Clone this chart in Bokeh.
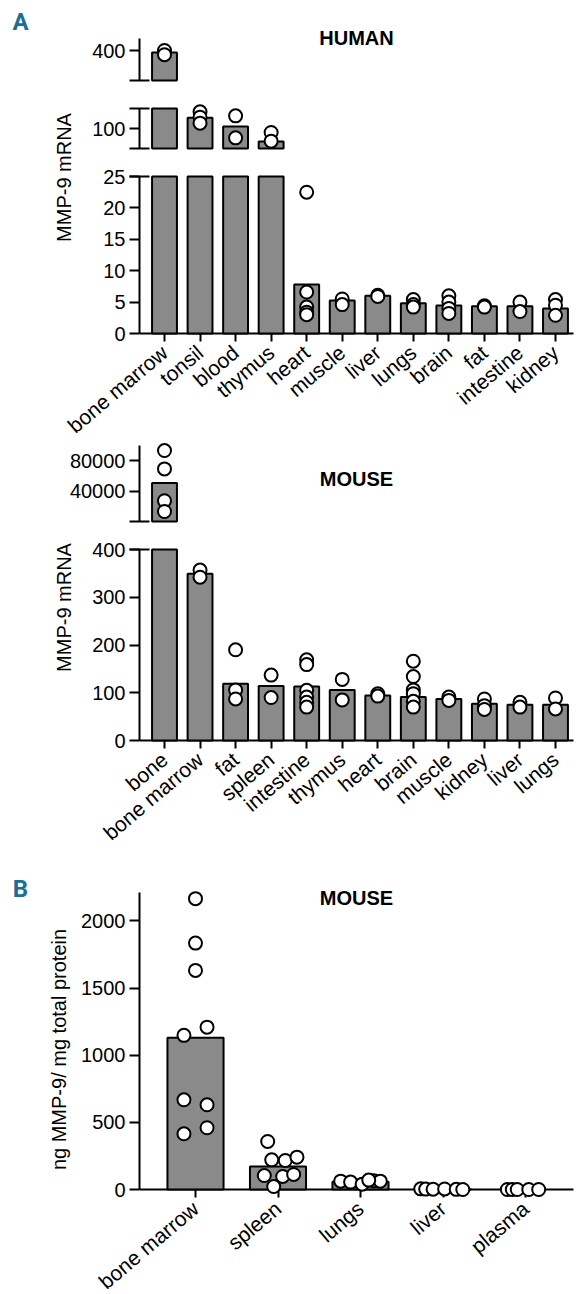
import numpy as np
from math import pi
from bokeh.plotting import figure
from bokeh.models import Range1d, LinearAxis, FixedTicker, Label, BasicTickFormatter
from bokeh.layouts import column
from bokeh.embed import file_html
from bokeh.resources import INLINE

# ---------------- data ----------------
human_tissues = ["bone marrow", "tonsil", "blood", "thymus", "heart", "muscle",
                 "liver", "lungs", "brain", "fat", "intestine", "kidney"]
human_mean = [393, 116, 103, 80.5, 7.8, 5.25, 6.0, 4.8, 4.45, 4.35, 4.35, 4.0]
human_points = [[400, 386], [125, 117, 108], [119, 86], [94, 81],
                [22.5, 6.6, 4.2, 3.4, 3.0], [5.5, 4.6], [6.1, 5.9], [5.4, 4.6, 4.2],
                [6.0, 5.0, 4.0, 3.2], [4.4, 4.2], [5.0, 3.5], [5.4, 4.5, 2.9]]

mouse_tissues = ["bone", "bone marrow", "fat", "spleen", "intestine", "thymus",
                 "heart", "brain", "muscle", "kidney", "liver", "lungs"]
mouse_mean = [50900, 349, 119, 114, 113, 106, 94, 91, 87, 77, 75, 75]
mouse_points = [[93400, 69300, 27600, 13500], [357, 342], [190, 106, 87], [137, 90],
                [169, 159, 105, 91, 80, 70], [128, 85], [98, 93],
                [166, 134, 106, 98, 82, 70], [91, 84], [87, 73, 65], [80, 70], [89, 66]]

protein_tissues = ["bone marrow", "spleen", "lungs", "liver", "plasma"]
protein_mean = [1130, 171, 57, 2, 0]
protein_points = [[2166, 1835, 1632, 1148, 1209, 668, 631, 415, 460],
                  [358, 221, 216, 241, 104, 97, 112, 22],
                  [62, 55, 40, 65, 62, 70],
                  [5, 3, 2, 4, 1, 0],
                  [0, 0, 0, 0, 0]]
protein_jitter = [[0, 0, 0, -0.14, 0.14, -0.14, 0.14, -0.14, 0.14],
                  [-0.125, -0.076, 0.088, 0.23, -0.166, 0.057, 0.19, -0.052],
                  [-0.24, -0.12, 0.02, 0.16, 0.24, 0.10],
                  [-0.27, -0.21, -0.12, 0.02, 0.16, 0.24],
                  [-0.22, -0.16, -0.10, 0.04, 0.16]]

# ---------------- style / layout (page pixels) ----------------
FONT = "Liberation Sans"
BAR_FILL = "#8a8a8a"
PANEL_COLOR = "#1b6e96"
W = 576
AXIS_PX = 139      # y-axis position
XEND_PX = 573      # end of x-axis line
TICK_FS = "20px"
XLAB_FS = "21px"
XLAB_ANGLE = 0.70


def seg_range(lo, hi, px_lo, px_hi, top, bottom):
    u = (hi - lo) / (px_lo - px_hi)
    return Range1d(lo - (bottom - px_lo) * u, hi + (px_hi - top) * u)


def add_text(p, text, ref_x, ref_y, bottom, size, bold=False, angle=0.0,
             font=FONT, color="black"):
    p.add_layout(Label(x=ref_x, y=bottom - ref_y,
                       x_units="screen", y_units="screen", text=text,
                       text_font=font, text_font_size=size,
                       text_font_style="bold" if bold else "normal",
                       text_align="center", text_baseline="middle",
                       angle=angle, text_color=color))


def panel(top, height, segments, cats, means, pts, jitter, first_center, spacing, bar_w):
    bottom = top + height
    n = len(cats)
    to_x = lambda px: (px - first_center) / spacing
    xl, xr = to_x(AXIS_PX), to_x(XEND_PX)
    lo0, hi0, pl0, ph0, _, _ = segments[0]
    p = figure(width=W, height=height, output_backend="svg", toolbar_location=None,
               x_range=Range1d(to_x(0), to_x(W)),
               y_range=seg_range(lo0, hi0, pl0, ph0, top, bottom),
               min_border=0, min_border_left=0, min_border_right=0,
               min_border_top=0, min_border_bottom=0,
               y_axis_location=None, outline_line_color=None,
               background_fill_color="white", border_fill_color="white")
    p.grid.visible = False

    pos = np.arange(n, dtype=float)
    means = np.asarray(means, dtype=float)
    px = np.concatenate([pos[i] + np.asarray(jitter[i] if jitter else [0.0] * len(pts[i]))
                         for i in range(n)])
    py = np.concatenate([np.asarray(v, dtype=float) for v in pts])

    for i, (lo, hi, pl, ph, ticks, minor) in enumerate(segments):
        if i == 0:
            name = "default"
        else:
            name = f"seg{i}"
            p.extra_y_ranges[name] = seg_range(lo, hi, pl, ph, top, bottom)
        m = means > lo
        p.vbar(x=pos[m], top=np.minimum(means[m], hi), bottom=lo, width=bar_w,
               y_range_name=name, fill_color=BAR_FILL, line_color="black", line_width=2)
        k = (py >= lo) & (py <= hi)
        p.scatter(px[k], py[k], size=13, marker="circle", fill_color="white",
                  line_color="black", line_width=2, y_range_name=name)
        ax = LinearAxis(y_range_name=name, fixed_location=xl, bounds=(lo, hi),
                        ticker=FixedTicker(ticks=ticks, minor_ticks=minor),
                        formatter=BasicTickFormatter(use_scientific=False))
        ax.axis_line_width = 2
        ax.axis_line_color = "black"
        ax.major_tick_line_width = 2
        ax.major_tick_line_color = "black"
        ax.major_tick_in = 0
        ax.major_tick_out = 10
        ax.minor_tick_line_width = 2
        ax.minor_tick_line_color = "black"
        ax.minor_tick_in = 10
        ax.minor_tick_out = 10
        ax.major_label_text_font = FONT
        ax.major_label_text_font_size = TICK_FS
        ax.major_label_text_color = "black"
        ax.major_label_standoff = 4
        p.add_layout(ax, "left")

    xa = p.xaxis[0]
    xa.ticker = FixedTicker(ticks=list(range(n)))
    xa.major_label_overrides = {i: c for i, c in enumerate(cats)}
    xa.fixed_location = 0
    xa.bounds = (xl, xr)
    xa.level = "underlay"
    xa.major_label_orientation = XLAB_ANGLE
    xa.axis_line_width = 2
    xa.axis_line_color = "black"
    xa.major_tick_line_width = 2
    xa.major_tick_line_color = "black"
    xa.major_tick_in = 0
    xa.major_tick_out = 8
    xa.minor_tick_line_color = None
    xa.major_label_text_font = FONT
    xa.major_label_text_font_size = XLAB_FS
    xa.major_label_text_color = "black"
    xa.major_label_standoff = 8
    return p, bottom


# segments: (lo, hi, px_lo, px_hi, ticks, minor caps)
hp, hb = panel(0, 440,
               [(0, 25, 333, 176, [0, 5, 10, 15, 20, 25], [25]),
                (70, 130, 148, 108, [100], [70, 130]),
                (300, 440, 80, 38, [400], [300])],
               human_tissues, human_mean, human_points, None, 164, 35.545, 0.70)
add_text(hp, "A", 20, 21, hb, "24px", bold=True, font="Roboto", color=PANEL_COLOR)
add_text(hp, "HUMAN", 356, 37, hb, "20px", bold=True)
add_text(hp, "MMP-9 mRNA", 63, 177, hb, "20px", angle=pi / 2)

mp, mb = panel(440, 420,
               [(0, 400, 740, 549, [0, 100, 200, 300, 400], [400]),
                (400, 100000, 521, 445, [40000, 80000], [400])],
               mouse_tissues, mouse_mean, mouse_points, None, 164, 35.545, 0.70)
add_text(mp, "MOUSE", 356, 478, mb, "20px", bold=True)
add_text(mp, "MMP-9 mRNA", 63, 607, mb, "20px", angle=pi / 2)

bp, bb = panel(860, 434,
               [(0, 2212, 1189, 892, [0, 500, 1000, 1500, 2000], [])],
               protein_tissues, protein_mean, protein_points, protein_jitter, 195, 82.5, 0.68)
add_text(bp, "B", 20, 888, bb, "24px", bold=True, font="Roboto", color=PANEL_COLOR)
add_text(bp, "MOUSE", 356, 897, bb, "20px", bold=True)
add_text(bp, "ng MMP-9/ mg total protein", 58, 1049, bb, "20px", angle=pi / 2)

layout = column(hp, mp, bp, spacing=0)
open("out.html", "w").write(file_html(layout, INLINE))
